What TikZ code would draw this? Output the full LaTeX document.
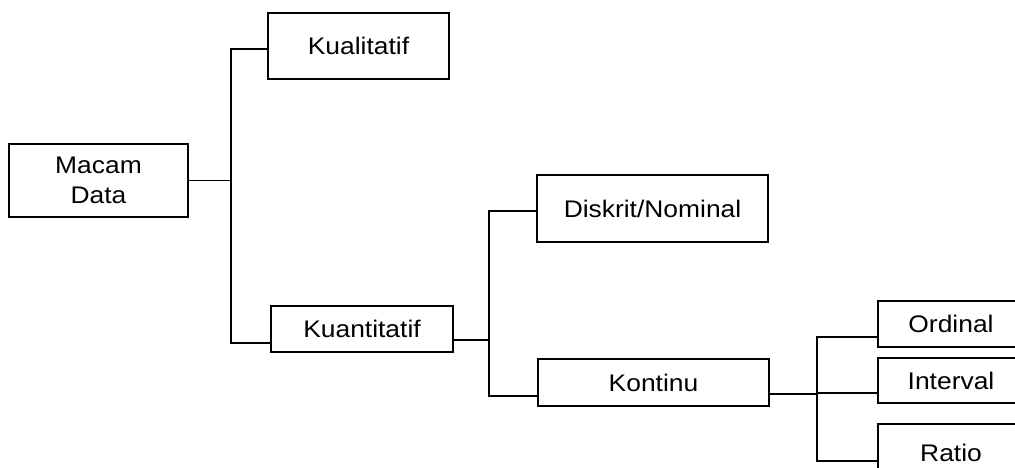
\documentclass[tikz,border=0pt]{standalone}
\usepackage{fontspec}
\setmainfont{Liberation Sans}[FakeStretch=1.1]
\begin{document}
\begin{tikzpicture}[x=1pt,y=-1pt,
  box/.style={draw, line width=1.2pt, inner sep=0pt, align=center,
              font=\fontsize{24}{30}\selectfont},
  link/.style={line width=1.2pt}]
\useasboundingbox (0,0) rectangle (1015,468);
\clip (0,0) rectangle (1015,468);

% boxes
\node[box, minimum width=179pt, minimum height=73pt] (macam) at (98.5,180.5) {Macam\\Data};
\node[box, minimum width=181pt, minimum height=66pt] (kual)  at (358.5,46) {Kualitatif};
\node[box, minimum width=182pt, minimum height=46pt] (kuan)  at (362,329) {Kuantitatif};
\node[box, minimum width=231pt, minimum height=67pt] (disk)  at (652.5,208.5) {Diskrit/Nominal};
\node[box, minimum width=231pt, minimum height=47pt] (kont)  at (653.5,382.5) {Kontinu};
\node[box, minimum width=146pt, minimum height=46pt] (ord)   at (951,324) {Ordinal};
\node[box, minimum width=146pt, minimum height=45pt] (intv)  at (951,380.5) {Interval};
\node[box, minimum width=146pt, minimum height=58pt] (ratio) at (951,453) {Ratio};

% junction points
\coordinate (j1)  at (231,180.5);
\coordinate (j1b) at (231,343);
\coordinate (j2)  at (489,340);
\coordinate (j2t) at (489,211);
\coordinate (j2b) at (489,396);
\coordinate (j3)  at (817,394);
\coordinate (j3t) at (817,337);
\coordinate (j3m) at (817,393);
\coordinate (j3b) at (817,461);

% connectors
\draw[link] (macam.east) -- (j1);
\draw[link] (kual.west |- 0,49) -| (j1b) -- (kuan.west |- j1b);
\draw[link] (kuan.east |- j2) -- (j2);
\draw[link] (disk.west |- j2t) -- (j2t) -- (j2b) -- (kont.west |- j2b);
\draw[link] (kont.east |- j3) -- (j3);
\draw[link] (ord.west |- j3t) -- (j3t) -- (j3b) -- (ratio.west |- j3b);
\draw[link] (j3m) -- (intv.west |- j3m);
\end{tikzpicture}
\end{document}
